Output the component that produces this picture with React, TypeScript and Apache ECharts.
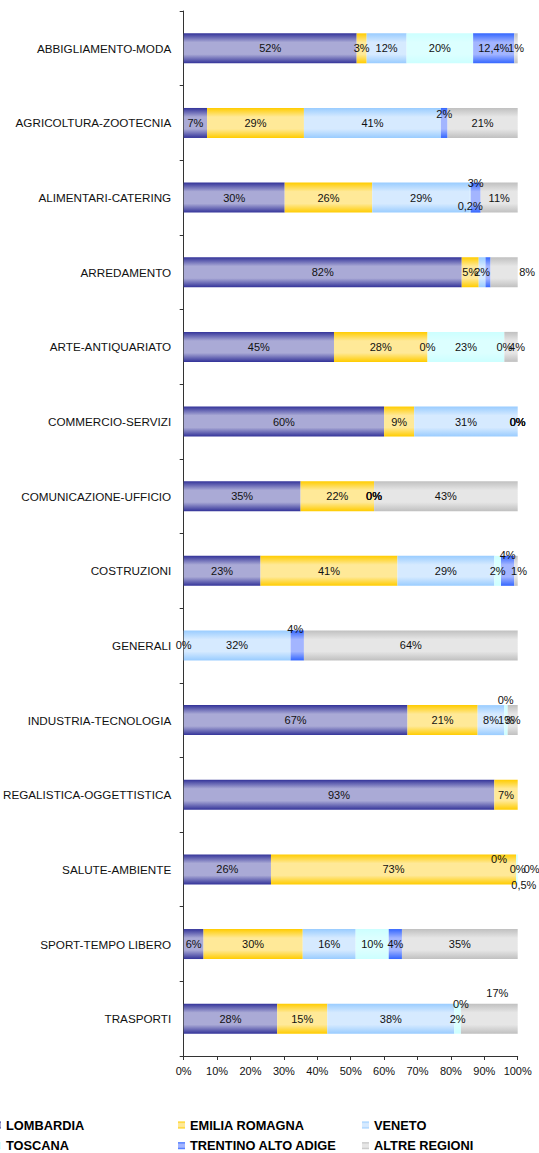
import React, { useEffect, useRef } from "react";
import * as echarts from "echarts";

const categories = [
  "ABBIGLIAMENTO-MODA",
  "AGRICOLTURA-ZOOTECNIA",
  "ALIMENTARI-CATERING",
  "ARREDAMENTO",
  "ARTE-ANTIQUARIATO",
  "COMMERCIO-SERVIZI",
  "COMUNICAZIONE-UFFICIO",
  "COSTRUZIONI",
  "GENERALI",
  "INDUSTRIA-TECNOLOGIA",
  "REGALISTICA-OGGETTISTICA",
  "SALUTE-AMBIENTE",
  "SPORT-TEMPO LIBERO",
  "TRASPORTI",
];

const seriesNames = ["LOMBARDIA", "EMILIA ROMAGNA", "VENETO", "TOSCANA", "TRENTINO ALTO ADIGE", "ALTRE REGIONI"];

// shares in % (null = empty cell)
const lombardia = [52, 7, 30, 82, 45, 60, 35, 23, 0, 67, 93, 26, 6, 28];
const emiliaRomagna = [3, 29, 26, 5, 28, 9, 22, 41, null, 21, 7, 73, 30, 15];
const veneto = [12, 41, 29, 2, 0, 31, 0, 29, 32, 8, null, 0, 16, 38];
const toscana = [20, null, 0.2, null, 23, 0, 0, 2, null, 1, null, 0.5, 10, 2];
const trentino = [12.4, 2, 3, 1.5, 0, 0, 0, 4, 4, 0, null, 0, 4, 0];
const altreRegioni = [1, 21, 11, 8, 4, 0, 43, 1, 64, 3, null, 0, 35, 17];

const xTicks = [0, 10, 20, 30, 40, 50, 60, 70, 80, 90, 100];

const allSeries = [lombardia, emiliaRomagna, veneto, toscana, trentino, altreRegioni];

const gradients: [string, string][] = [
  ["#333399", "#aaaad6"],
  ["#ffcc00", "#ffe998"],
  ["#99ccff", "#d6eaff"],
  ["#ccffff", "#dcffff"],
  ["#3366ff", "#a3b5ff"],
  ["#c0c0c0", "#e6e6e6"],
];

// label placement tweaks: "series-category" -> [dx, dy]
const labelOffsets: Record<string, [number, number]> = {
  "4-1": [0, -9],
  "4-2": [0, -15],
  "3-2": [0, 8],
  "5-3": [23, 0],
  "5-4": [6, 0],
  "4-7": [0, -16],
  "5-7": [3, 0],
  "4-8": [-2, -16],
  "4-9": [-2, -20],
  "2-11": [-17, -10],
  "3-11": [7, 16],
  "5-11": [14, 0],
  "4-13": [0, -15],
  "5-13": [8, -26],
};
const hiddenLabels = new Set(["4-3"]);

const FONT = "'Liberation Sans', Arial, sans-serif";

function fmt(v: number) {
  return Number.isInteger(v) ? `${v}%` : `${String(v).replace(".", ",")}%`;
}

function grad(dark: string, light: string) {
  return new echarts.graphic.LinearGradient(0, 0, 0, 1, [
    { offset: 0, color: dark },
    { offset: 0.3, color: light },
    { offset: 0.7, color: light },
    { offset: 1, color: dark },
  ]);
}

export default function App() {
  const ref = useRef<HTMLDivElement>(null);
  useEffect(() => {
    if (!ref.current) return;
    const chart = echarts.init(ref.current, null, { renderer: "svg" });
    const totals = categories.map((_, ci) =>
      allSeries.reduce((s, arr) => s + (arr[ci] == null ? 0 : (arr[ci] as number)), 0)
    );
    const series = allSeries.map((arr, si) => ({
      name: seriesNames[si],
      type: "bar",
      stack: "total",
      barWidth: 30,
      itemStyle: { color: grad(gradients[si][0], gradients[si][1]) },
      label: {
        show: true,
        position: "inside",
        color: "#111",
        fontSize: 11,
        fontFamily: FONT,
        formatter: (p: any) => (p.data && p.data.raw != null ? fmt(p.data.raw) : ""),
      },
      data: arr.map((v, ci) => {
        if (v == null) return { value: null };
        const key = `${si}-${ci}`;
        const item: any = { value: (v / totals[ci]) * 100, raw: v };
        const lab: any = {};
        if (labelOffsets[key]) lab.offset = labelOffsets[key];
        if (hiddenLabels.has(key)) lab.show = false;
        item.label = lab;
        return item;
      }),
    }));
    const legendBase = {
      orient: "vertical",
      top: 1118,
      padding: 0,
      itemWidth: 7,
      itemHeight: 7,
      itemGap: 6.7,
      icon: "rect",
      textStyle: { fontSize: 12.8, fontWeight: "bold", color: "#000", fontFamily: FONT, lineHeight: 14 },
    };
    chart.setOption({
      animation: false,
      grid: { left: 178.3, right: 21.3, top: 11, bottom: 97, containLabel: false },
      xAxis: {
        type: "value",
        min: 0,
        max: 100,
        interval: 10,
        axisLine: { show: true, lineStyle: { color: "#333", width: 1 } },
        axisTick: { show: true, length: 4, lineStyle: { color: "#333" } },
        splitLine: { show: false },
        axisLabel: {
          margin: 9,
          fontSize: 11,
          color: "#111",
          fontFamily: FONT,
          formatter: (v: number) => (xTicks.includes(v) ? `${v}%` : ""),
        },
      },
      yAxis: {
        type: "category",
        inverse: true,
        data: categories,
        axisLine: { show: true, lineStyle: { color: "#333", width: 1 } },
        axisTick: { show: true, length: 4, lineStyle: { color: "#333" } },
        axisLabel: { margin: 12.5, fontSize: 11.7, color: "#111", fontFamily: FONT },
      },
      legend: [
        { ...legendBase, left: -6, data: ["LOMBARDIA", "TOSCANA"] },
        { ...legendBase, left: 178, data: ["EMILIA ROMAGNA", "TRENTINO ALTO ADIGE"] },
        { ...legendBase, left: 362, data: ["VENETO", "ALTRE REGIONI"] },
      ],
      series,
    });
    return () => chart.dispose();
  }, []);
  return (
    <div
      ref={ref}
      style={{ position: "absolute", left: 0, top: 0, width: 539, height: 1153, background: "#fff" }}
    />
  );
}
